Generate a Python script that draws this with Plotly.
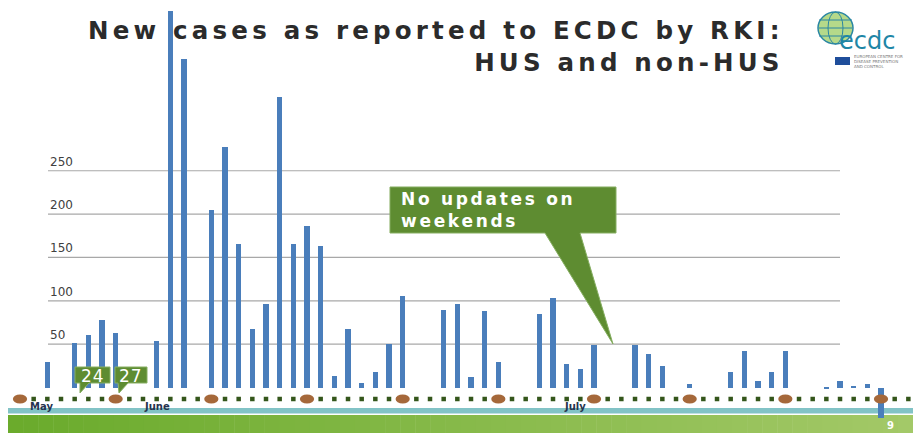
import pandas as pd
import plotly.graph_objects as go

# ---------------- data ----------------
report_dates = [
    "2011-05-22", "2011-05-24", "2011-05-25", "2011-05-26", "2011-05-27",
    "2011-05-30", "2011-05-31", "2011-06-01", "2011-06-03", "2011-06-04",
    "2011-06-05", "2011-06-06", "2011-06-07", "2011-06-08", "2011-06-09",
    "2011-06-10", "2011-06-11", "2011-06-12", "2011-06-13", "2011-06-14",
    "2011-06-15", "2011-06-16", "2011-06-17", "2011-06-20", "2011-06-21",
    "2011-06-22", "2011-06-23", "2011-06-24", "2011-06-27", "2011-06-28",
    "2011-06-29", "2011-06-30", "2011-07-01", "2011-07-04", "2011-07-05",
    "2011-07-06", "2011-07-08", "2011-07-11", "2011-07-12", "2011-07-13",
    "2011-07-14", "2011-07-15", "2011-07-18", "2011-07-19", "2011-07-20",
    "2011-07-21", "2011-07-22",
]
new_cases = [
    29, 51, 60, 78, 63,
    54, 434, 379, 205, 277,
    166, 68, 96, 335, 165,
    186, 163, 13, 68, 5,
    18, 50, 106, 89, 96,
    12, 88, 29, 85, 103,
    27, 21, 49, 49, 39,
    25, 4, 18, 42, 7,
    18, 42, -2, 7, 2,
    4, -35,
]
y_tick_values = [50, 100, 150, 200, 250]
month_labels = ["May", "June", "July"]
month_label_dates = ["2011-05-21 14:00", "2011-05-30", "2011-06-29 14:00"]
timeline_start = "2011-05-20"   # first Friday marker
timeline_days = 66
callout_dates = ["24", "27"]

title_lines = ["New cases as reported to ECDC by RKI:", "HUS and non-HUS"]
note_lines = ["No updates on", "weekends"]

# ---------------- geometry helpers ----------------
W, H = 913, 433
def px(x):
    return x / W
def py(y):
    return 1 - y / H

start = pd.Timestamp(timeline_start)
day_px = 13.667
x0_day = -20 / day_px
x1_day = (W - 20) / day_px
x_range = [start + pd.Timedelta(days=x0_day), start + pd.Timedelta(days=x1_day)]
zero_px, unit_px = 387.5, 0.867
y_range = [-(H - zero_px) / unit_px, zero_px / unit_px]
timeline_y = -(399 - zero_px) / unit_px

BAR_BLUE = "#4A7EBB"
GREEN = "#5E8C31"
FONT = "Verdana, DejaVu Sans, sans-serif"

fig = go.Figure()

fig.add_trace(go.Bar(
    x=pd.to_datetime(report_dates), y=new_cases,
    marker=dict(color=BAR_BLUE, line=dict(width=0)),
    width=0.37 * 86400000, hoverinfo="skip",
))

# timeline of days: squares on ordinary days, brown ellipses on Fridays
days = pd.date_range(start, periods=timeline_days, freq="D")
square_days = [d for i, d in enumerate(days) if i % 7 != 0]
fig.add_trace(go.Scatter(
    x=square_days, y=[timeline_y] * len(square_days), mode="markers",
    marker=dict(symbol="square", size=4.5, color="#34561B"),
    hoverinfo="skip",
))

shapes = []
for i, d in enumerate(days):
    if i % 7 == 0:
        shapes.append(dict(
            type="circle", xref="x", yref="y", layer="above",
            x0=d - pd.Timedelta(days=0.52), x1=d + pd.Timedelta(days=0.52),
            y0=timeline_y - 5.3, y1=timeline_y + 5.3,
            fillcolor="#A5683A", line=dict(width=0),
        ))

# gridlines
for v in y_tick_values:
    shapes.append(dict(type="line", xref="paper", yref="y", layer="below",
                       x0=px(48), x1=px(840), y0=v, y1=v,
                       line=dict(color="#A8A8A8", width=1.2)))

# bottom decoration bands
shapes.append(dict(type="rect", xref="paper", yref="paper", layer="below",
                   x0=px(8), x1=1, y0=py(413.5), y1=py(408),
                   fillcolor="#82C3C6", line=dict(width=0)))
n_strips = 60
c0, c1 = (107, 171, 44), (163, 201, 104)
for k in range(n_strips):
    t = k / (n_strips - 1)
    col = tuple(int(c0[j] + (c1[j] - c0[j]) * t) for j in range(3))
    xa = 8 + (W - 8) * k / n_strips
    xb = 8 + (W - 8) * (k + 1) / n_strips + 0.5
    shapes.append(dict(type="rect", xref="paper", yref="paper", layer="below",
                       x0=px(xa), x1=px(xb), y0=0, y1=py(415),
                       fillcolor="rgb(%d,%d,%d)" % col, line=dict(width=0)))

def path(points):
    return "M " + " L ".join("%.5f,%.5f" % (px(a), py(b)) for a, b in points) + " Z"

# callouts
shapes.append(dict(type="path", xref="paper", yref="paper", layer="above",
                   path=path([(75, 367), (110, 367), (110, 383), (89, 383),
                              (80, 393), (80, 383), (75, 383)]),
                   fillcolor=GREEN, line=dict(color="#86AE62", width=1)))
shapes.append(dict(type="path", xref="paper", yref="paper", layer="above",
                   path=path([(115, 367), (147, 367), (147, 383), (128, 383),
                              (119, 393), (118, 383), (115, 383)]),
                   fillcolor=GREEN, line=dict(color="#86AE62", width=1)))
shapes.append(dict(type="path", xref="paper", yref="paper", layer="above",
                   path=path([(390, 187), (616, 187), (616, 233), (580, 233),
                              (613, 344), (545, 233), (390, 233)]),
                   fillcolor=GREEN, line=dict(color="#86AE62", width=1)))

# logo: globe + flag
shapes.append(dict(type="circle", xref="paper", yref="paper", layer="above",
                   x0=px(818), x1=px(853), y0=py(44), y1=py(12),
                   fillcolor="#B5D98A", line=dict(color="#2A86A3", width=1.5)))
shapes.append(dict(type="circle", xref="paper", yref="paper", layer="above",
                   x0=px(828), x1=px(843), y0=py(44), y1=py(12),
                   fillcolor="rgba(0,0,0,0)", line=dict(color="#2A86A3", width=1)))
for yy in (20, 28, 36):
    shapes.append(dict(type="line", xref="paper", yref="paper", layer="above",
                       x0=px(819), x1=px(852), y0=py(yy), y1=py(yy),
                       line=dict(color="#2A86A3", width=1)))
shapes.append(dict(type="rect", xref="paper", yref="paper", layer="above",
                   x0=px(835), x1=px(850), y0=py(65), y1=py(57),
                   fillcolor="#1F4E9B", line=dict(width=0)))

annotations = []
# y labels
for v in y_tick_values:
    annotations.append(dict(x=px(48), xref="paper", xanchor="left",
                            y=v, yref="y", yanchor="bottom", yshift=0,
                            text=str(v), showarrow=False,
                            font=dict(family=FONT, size=12, color="#404040")))
# month labels
for lab, d in zip(month_labels, month_label_dates):
    annotations.append(dict(x=pd.Timestamp(d), xref="x", xanchor="center",
                            y=py(406), yref="paper", yanchor="middle",
                            text="<b>%s</b>" % lab, showarrow=False,
                            font=dict(family=FONT, size=10, color="#26334F")))

def spaced(t, sp):
    return "<span style='letter-spacing:%spx'>%s</span>" % (sp, t)

# title (two lines, right aligned)
annotations.append(dict(x=px(786), xref="paper", xanchor="right", align="right",
                        y=py(46), yref="paper", yanchor="middle",
                        text="<br>".join("<b>" + spaced(t, 4.2) + "</b>" for t in title_lines),
                        showarrow=False,
                        font=dict(family=FONT, size=24.5, color="#2B2B2B")))
# note
annotations.append(dict(x=px(399), xref="paper", xanchor="left", align="left",
                        y=py(210), yref="paper", yanchor="middle",
                        text="<br>".join("<b>" + spaced(t, 2.7) + "</b>" for t in note_lines),
                        showarrow=False,
                        font=dict(family=FONT, size=17, color="white")))
# callout numbers
for txt, cx in zip(callout_dates, (92.5, 131)):
    annotations.append(dict(x=px(cx), xref="paper", xanchor="center",
                            y=py(375.5), yref="paper", yanchor="middle",
                            text=spaced(txt, 1), showarrow=False,
                            font=dict(family=FONT, size=17, color="white")))
# logo text
annotations.append(dict(x=px(867), xref="paper", xanchor="center",
                        y=py(41), yref="paper", yanchor="middle",
                        text="ecdc", showarrow=False,
                        font=dict(family=FONT, size=24, color="#1E86A6")))
annotations.append(dict(x=px(852), xref="paper", xanchor="left",
                        y=py(62), yref="paper", yanchor="middle",
                        text="EUROPEAN CENTRE FOR<br>DISEASE PREVENTION<br>AND CONTROL",
                        showarrow=False, align="left",
                        font=dict(family=FONT, size=4, color="#777777")))
# slide number
annotations.append(dict(x=px(890), xref="paper", xanchor="center",
                        y=py(425.5), yref="paper", yanchor="middle",
                        text="<b>9</b>", showarrow=False,
                        font=dict(family=FONT, size=10, color="white")))

fig.update_layout(
    width=W, height=H,
    margin=dict(l=0, r=0, t=0, b=0),
    paper_bgcolor="white", plot_bgcolor="white",
    showlegend=False, hovermode=False,
    bargap=0,
    xaxis=dict(type="date", range=x_range, visible=False, fixedrange=True),
    yaxis=dict(range=y_range, visible=False, fixedrange=True),
    shapes=shapes, annotations=annotations,
)

fig.write_html("out.html", config={"displayModeBar": False},
               post_script="document.body.style.margin='0px';"
                           "document.body.style.overflow='hidden';")
